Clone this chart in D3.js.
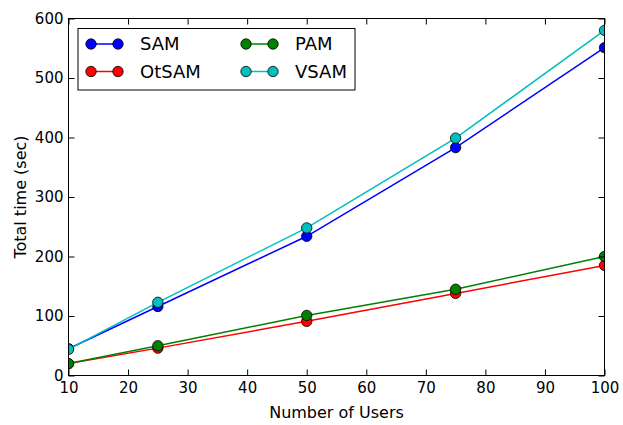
<!DOCTYPE html>
<html>
<head>
<meta charset="utf-8">
<script src="https://cdn.jsdelivr.net/npm/d3@7"></script>
<style>
  html, body { margin: 0; padding: 0; background: #fff; }
  svg { display: block; font-family: "DejaVu Sans", sans-serif; }
</style>
</head>
<body>
<svg id="chart" width="623" height="425"></svg>
<script>
// Number of users on the x axis
const users = [10, 25, 50, 75, 100];

// Total time (sec) per method
const samTimes   = [45, 116, 234, 383, 551];
const otsamTimes = [20, 46, 91, 138, 185];
const pamTimes   = [20, 50, 101, 145, 200];
const vsamTimes  = [44, 123, 248, 399, 580];

const seriesNames  = ["SAM", "OtSAM", "PAM", "VSAM"];
const seriesColors = ["#0000ff", "#ff0000", "#008000", "#00bfbf"];

const xTicks = [10, 20, 30, 40, 50, 60, 70, 80, 90, 100];
const yTicks = [0, 100, 200, 300, 400, 500, 600];

const series = [samTimes, otsamTimes, pamTimes, vsamTimes].map((vals, i) => ({
  name: seriesNames[i],
  color: seriesColors[i],
  points: vals.map((v, j) => ({ x: users[j], y: v }))
}));

const svg = d3.select("#chart");
const plotLeft = 68.5, plotRight = 604.5, plotTop = 18.5, plotBottom = 375.5;

const x = d3.scaleLinear().domain([10, 100]).range([plotLeft, plotRight]);
const y = d3.scaleLinear().domain([0, 600]).range([plotBottom, plotTop]);

svg.append("defs").append("clipPath").attr("id", "plot-clip")
  .append("rect").attr("x", plotLeft).attr("y", plotTop)
  .attr("width", plotRight - plotLeft).attr("height", plotBottom - plotTop);

const plot = svg.append("g").attr("clip-path", "url(#plot-clip)");

const line = d3.line().x(d => x(d.x)).y(d => y(d.y));

series.forEach(s => {
  plot.append("path")
    .datum(s.points)
    .attr("d", line)
    .attr("fill", "none")
    .attr("stroke", s.color)
    .attr("stroke-width", 1.5);
  plot.selectAll(null)
    .data(s.points)
    .enter().append("circle")
    .attr("cx", d => x(d.x))
    .attr("cy", d => y(d.y))
    .attr("r", 5.2)
    .attr("fill", s.color)
    .attr("stroke", "#000")
    .attr("stroke-width", 0.8);
});

// Axes: ticks point inward on all four sides
const tickLen = 6;
const tickFont = 15;
const labelFont = 16;

const xAxisB = d3.axisBottom(x).tickValues(xTicks).tickSizeInner(-tickLen).tickSizeOuter(0).tickPadding(7);
const xAxisT = d3.axisTop(x).tickValues(xTicks).tickSizeInner(-tickLen).tickSizeOuter(0).tickFormat("");
const yAxisL = d3.axisLeft(y).tickValues(yTicks).tickSizeInner(-tickLen).tickSizeOuter(0).tickPadding(5);
const yAxisR = d3.axisRight(y).tickValues(yTicks).tickSizeInner(-tickLen).tickSizeOuter(0).tickFormat("");

function styleAxis(g) {
  g.select(".domain").remove();
  g.selectAll(".tick line").attr("stroke", "#000").attr("stroke-width", 1);
  g.selectAll(".tick text").attr("fill", "#000")
    .attr("font-size", tickFont)
    .attr("font-family", "DejaVu Sans, sans-serif");
}

svg.append("g").attr("transform", `translate(0,${plotBottom})`).call(xAxisB).call(styleAxis);
svg.append("g").attr("transform", `translate(0,${plotTop})`).call(xAxisT).call(styleAxis);
svg.append("g").attr("transform", `translate(${plotLeft},0)`).call(yAxisL).call(styleAxis);
svg.append("g").attr("transform", `translate(${plotRight},0)`).call(yAxisR).call(styleAxis);

// Frame
svg.append("rect")
  .attr("x", plotLeft).attr("y", plotTop)
  .attr("width", plotRight - plotLeft).attr("height", plotBottom - plotTop)
  .attr("fill", "none").attr("stroke", "#000").attr("stroke-width", 1);

// Axis titles
svg.append("text")
  .attr("x", (plotLeft + plotRight) / 2).attr("y", 418)
  .attr("text-anchor", "middle")
  .attr("font-size", labelFont)
  .text("Number of Users");

svg.append("text")
  .attr("transform", `translate(25.5,${(plotTop + plotBottom) / 2}) rotate(-90)`)
  .attr("text-anchor", "middle")
  .attr("font-size", labelFont)
  .text("Total time (sec)");

// Legend, two columns
const legend = svg.append("g");
legend.append("rect")
  .attr("x", 78).attr("y", 28.5)
  .attr("width", 277).attr("height", 61.5)
  .attr("fill", "#fff").attr("stroke", "#000").attr("stroke-width", 1);

const legendPos = [
  { x: 91, y: 44 }, { x: 91, y: 71.5 },
  { x: 246, y: 44 }, { x: 246, y: 71.5 }
];

series.forEach((s, i) => {
  const p = legendPos[i];
  const item = legend.append("g");
  item.append("line")
    .attr("x1", p.x).attr("x2", p.x + 27)
    .attr("y1", p.y).attr("y2", p.y)
    .attr("stroke", s.color).attr("stroke-width", 1.5);
  [p.x, p.x + 27].forEach(cx => {
    item.append("circle")
      .attr("cx", cx).attr("cy", p.y).attr("r", 5.2)
      .attr("fill", s.color).attr("stroke", "#000").attr("stroke-width", 0.8);
  });
  item.append("text")
    .attr("x", p.x + 49).attr("y", p.y)
    .attr("dy", "0.36em")
    .attr("font-size", 18)
    .text(s.name);
});
</script>
</body>
</html>
